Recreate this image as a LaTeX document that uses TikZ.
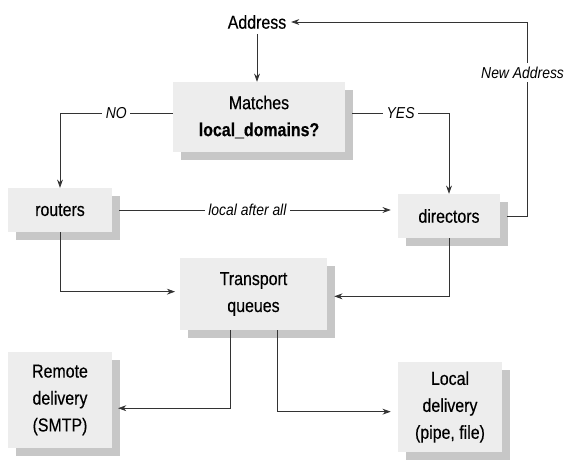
\documentclass[tikz,border=0pt]{standalone}
\usepackage{fontspec}
\setmainfont{Liberation Sans}[FakeStretch=0.85,FakeBold=0.4]
\newfontfamily\lblfont{Liberation Sans}[FakeStretch=0.88]
\usetikzlibrary{arrows.meta,shadows}
\begin{document}
\begin{tikzpicture}[x=0.03cm,y=-0.03cm,
  box/.style={fill=black!7, draw=none, align=center, inner sep=0pt,
    font=\fontsize{16}{23}\selectfont,
    drop shadow={shadow xshift=6.5pt, shadow yshift=-6.5pt, fill=black!22, opacity=1}},
  lbl/.style={fill=white, inner sep=3pt, font=\lblfont\fontsize{13.5}{15}\selectfont\itshape},
  arr/.style={draw=black!80, line width=0.6pt, -{Stealth[length=7pt,width=5pt]}},
  plain/.style={font=\fontsize{16}{23}\selectfont, inner sep=4pt}]
\useasboundingbox (0,0) rectangle (567,461);

\node[plain] (addr) at (257,22) {Address};
\node[box, minimum width=172*0.03cm, minimum height=70*0.03cm] (m) at (259,117)
  {Matches\\\textbf{local\_domains?}};
\node[box, minimum width=104*0.03cm, minimum height=44*0.03cm] (r) at (60,210) {routers};
\node[box, minimum width=102*0.03cm, minimum height=44*0.03cm] (d) at (449,216) {directors};
\node[box, minimum width=147*0.03cm, minimum height=72*0.03cm] (t) at (253.5,294) {Transport\\queues};
\node[box, minimum width=104*0.03cm, minimum height=96*0.03cm] (rem) at (60,400) {Remote\\delivery\\(SMTP)};
\node[box, minimum width=104*0.03cm, minimum height=90*0.03cm] (loc) at (450,407) {Local\\delivery\\(pipe, file)};

\draw[arr] (addr.south) -- (addr.south |- m.north);
\draw[arr] ([yshift=3pt]m.west) -| node[lbl, pos=0.25] {NO} (r.north);
\draw[arr] ([yshift=3pt,xshift=6pt]m.east) -| node[lbl, pos=0.25] {YES} (d.north);
\draw[arr, shorten >=6pt] ([xshift=6pt]r.east) -- node[lbl, pos=0.46] {local after all} (r.east -| d.west);
\draw[arr] ([xshift=6pt]d.east) -- ++(20,0) |- node[lbl, pos=0.37, xshift=-4pt] {New Address} (addr.east);
\draw[arr, shorten >=4pt] (r.south) |- ([yshift=2pt]t.west);
\draw[arr] (d.south) |- ([xshift=6pt,yshift=-2pt]t.east);
\draw[arr] ([xshift=-20pt]t.south) |- ([xshift=5pt,yshift=-7pt]rem.east);
\draw[arr, shorten >=6pt] ([xshift=20pt]t.south) |- ([yshift=-4pt]loc.west);
\end{tikzpicture}
\end{document}
